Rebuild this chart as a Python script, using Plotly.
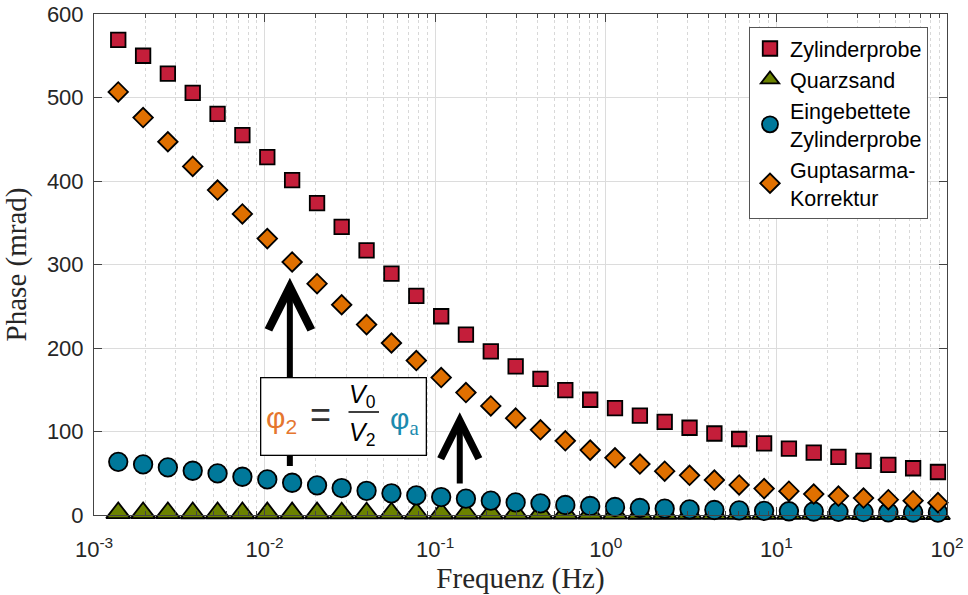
import numpy as np
import plotly.graph_objects as go

# ---------------- data ----------------
freq = [0.001387, 0.00194, 0.00271, 0.00379, 0.0053, 0.00741, 0.01037, 0.0145,
        0.0203, 0.0283, 0.0396, 0.0554, 0.0775, 0.1084, 0.1514, 0.2118, 0.2962,
        0.414, 0.579, 0.81, 1.132, 1.584, 2.214, 3.097, 4.33, 6.05, 8.47, 11.84,
        16.55, 23.1, 32.4, 45.3, 63.3, 88.5]

zylinderprobe = [569, 550, 528.5, 505.5, 480.5, 455, 428.5, 401, 373.5, 345, 317,
                 289, 262.5, 238, 216, 196, 178, 163, 149.5, 138, 128, 119, 111.5,
                 104.5, 97.6, 91, 85.7, 79.5, 74.8, 69.5, 64.8, 60, 56, 51.5]

quarzsand = [2.5, 2.5, 2.5, 2.4, 2.4, 2.4, 2.3, 2.3, 2.3, 2.2, 2.2, 2.2, 2.1, 2.1,
             2.1, 2.0, 2.0, 2.0, 1.9, 1.9, 1.9, 1.8, 1.8, 1.8, 1.7, 1.7, 1.7, 1.6,
             1.6, 1.6, 1.5, 1.5, 1.5, 1.5]

eingebettet = [63.7, 60.6, 57, 53, 49.8, 45.8, 42.6, 38.6, 35.5, 32.3, 29, 26,
               23.5, 21.5, 19.5, 17.1, 15.1, 14, 12, 10.8, 9.6, 8.4, 7.6, 6.8,
               6.0, 5.5, 5.0, 4.5, 4.2, 3.8, 3.5, 3.2, 3.0, 2.8]

guptasarma = [506.7, 476, 447, 417.5, 389.2, 360.6, 331, 303, 277, 251.8, 228,
              206, 185, 164.6, 146.6, 130.6, 116, 102, 88.8, 77.7, 68.5, 61,
              52.5, 47.5, 41.8, 36, 31.6, 28.5, 25.1, 22.7, 20.3, 18.3, 17.1, 14.8]

series_names = ["Zylinderprobe", "Quarzsand", "Eingebettete<br>Zylinderprobe",
                "Guptasarma-<br>Korrektur"]

x_tickvals = [1e-3, 1e-2, 1e-1, 1e0, 1e1, 1e2]
x_ticktext = ["10<sup>-3</sup>", "10<sup>-2</sup>", "10<sup>-1</sup>",
              "10<sup>0</sup>", "10<sup>1</sup>", "10<sup>2</sup>"]
y_tickvals = [0, 100, 200, 300, 400, 500, 600]

# arrow annotations (frequency, tail phase, head phase)
arrow1 = (0.01406, 57, 284)
arrow2 = (0.1393, 36, 123)

# ---------------- styles ----------------
C_RED = "#C41E3A"
C_OLIVE = "#6B8200"
C_TEAL = "#00789A"
C_ORANGE = "#E07000"
TXT = "#262626"
SANS = "Liberation Sans, Arial, sans-serif"
SERIF = "Liberation Serif, Times New Roman, serif"

W, H = 968, 595
ML, MR, MT, MB = 94, 21, 14, 80

fig = go.Figure()

def add(y, name, symbol, color, size):
    fig.add_trace(go.Scatter(
        x=freq, y=y, name=name, mode="markers", cliponaxis=False,
        marker=dict(symbol=symbol, color=color, size=size,
                    line=dict(color="black", width=1.8))))

add(zylinderprobe, series_names[0], "square", C_RED, 14.5)
add(quarzsand, series_names[1], "triangle-up", C_OLIVE, 21)
add(eingebettet, series_names[2], "circle", C_TEAL, 18.5)
add(guptasarma, series_names[3], "diamond", C_ORANGE, 15)

annotations = []
for (f, y0, y1), asize in ((arrow1, 1.4), (arrow2, 1.25)):
    annotations.append(dict(
        x=np.log10(f), y=y1, ax=np.log10(f), ay=y0, xref="x", yref="y",
        axref="x", ayref="y", text="", showarrow=True, arrowhead=5,
        arrowsize=asize, arrowwidth=6, arrowcolor="black", standoff=0))

PW = W - ML - MR
PH = H - MT - MB

def px2paper(px, py):
    return (px - ML) / PW, (MT + PH - py) / PH

bx, by = px2paper(343, 416)
annotations.append(dict(x=bx, y=by, xref="paper", yref="paper", text=" ",
                        xanchor="center", yanchor="middle",
                        showarrow=False, width=162, height=74, bgcolor="white",
                        bordercolor="black", borderwidth=1.3, borderpad=1))

def txt(px, py, text, size, color="black", family=SANS):
    x, y = px2paper(px, py)
    annotations.append(dict(x=x, y=y, xref="paper", yref="paper", text=text,
                            showarrow=False, xanchor="center", yanchor="middle",
                            font=dict(family=family, size=size, color=color)))

txt(281, 419, "φ<sub>2</sub>", 30, "#E5762E")
txt(320, 414, "=", 36, "#333333")
txt(362, 396, "<i>V</i><sub>0</sub>", 25)
txt(362, 434, "<i>V</i><sub>2</sub>", 25)
txt(404, 421, "φ<span style='font-family:Liberation Serif'><sub>a</sub></span>", 30, "#1C8AAE")
lx, ly = px2paper(379, 412)
annotations.append(dict(x=lx, y=ly, xref="paper", yref="paper", text="",
                        showarrow=True, ax=-32, ay=0, arrowhead=0,
                        arrowwidth=1.5, arrowcolor="black", standoff=0))

lgx, lgy = px2paper(749, 27)

fig.update_layout(
    width=W, height=H,
    margin=dict(l=ML, r=MR, t=MT, b=MB, autoexpand=False),
    paper_bgcolor="white", plot_bgcolor="white",
    font=dict(family=SANS, color=TXT),
    showlegend=True,
    legend=dict(x=lgx, y=lgy, xanchor="left", yanchor="top",
                bgcolor="white", bordercolor="#555555", borderwidth=1,
                font=dict(family=SANS, size=21.5, color="black"),
                itemsizing="trace", valign="middle", tracegroupgap=0),
    annotations=annotations,
)

fig.update_xaxes(
    type="log", range=[-3, 2], tickmode="array", tickvals=x_tickvals,
    ticktext=x_ticktext, tickfont=dict(family=SANS, size=22, color=TXT),
    ticks="inside", ticklen=8, tickwidth=1, tickcolor="#444444",
    showline=True, linecolor="#444444", linewidth=1, mirror="ticks",
    showgrid=True, gridcolor="#DCDCDC", gridwidth=1,
    minor=dict(dtick="D1", ticks="inside", ticklen=4, tickcolor="#444444",
               showgrid=True, gridcolor="#D8D8D8", griddash="dot", gridwidth=1),
    title=dict(text="Frequenz (Hz)", font=dict(family=SERIF, size=29, color=TXT),
               standoff=2),
    ticklabelstandoff=15, ticklabeloverflow="allow", zeroline=False,
)
fig.update_yaxes(
    range=[0, 600], tickmode="array", tickvals=y_tickvals,
    tickfont=dict(family=SANS, size=22, color=TXT),
    ticks="inside", ticklen=8, tickwidth=1, tickcolor="#444444",
    showline=True, linecolor="#444444", linewidth=1, mirror="ticks",
    showgrid=True, gridcolor="#DCDCDC", gridwidth=1, zeroline=False,
    title=dict(text="Phase (mrad)", font=dict(family=SERIF, size=29, color=TXT),
               standoff=12),
    ticklabelstandoff=5, ticklabeloverflow="allow",
)

fig.write_html("out.html",
               config={"displayModeBar": False},
               post_script="document.body.style.margin='0';"
                           "document.body.style.overflow='hidden';")
